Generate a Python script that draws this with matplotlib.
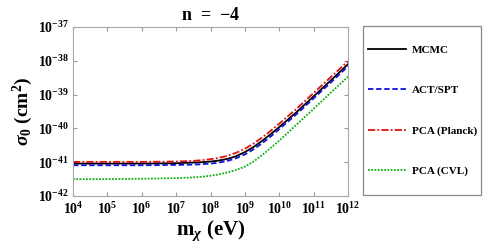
import matplotlib
matplotlib.use('Agg')
import matplotlib.pyplot as plt
from matplotlib.patches import Rectangle
import numpy as np

# =============================================================================
# DATA (log10 values)
# =============================================================================
log_m = [4, 5, 6, 7, 7.5, 7.75, 8, 8.25, 8.5, 8.75, 9, 9.25, 9.5, 9.75, 10, 10.25, 10.5, 11, 11.5, 12]

mcmc    = [-41.04, -41.04, -41.04, -41.03, -41.01, -41.00, -40.98, -40.95, -40.90, -40.82, -40.70,
           -40.55, -40.37, -40.17, -39.96, -39.74, -39.52, -39.05, -38.58, -38.10]
act_spt = [-41.09, -41.09, -41.09, -41.08, -41.07, -41.06, -41.04, -41.01, -40.96, -40.88, -40.77,
           -40.62, -40.44, -40.24, -40.02, -39.80, -39.58, -39.11, -38.64, -38.16]
pca_pl  = [-40.99, -40.99, -40.99, -40.98, -40.96, -40.94, -40.91, -40.87, -40.81, -40.72, -40.60,
           -40.45, -40.27, -40.07, -39.86, -39.64, -39.42, -38.95, -38.48, -38.01]
pca_cvl = [-41.50, -41.50, -41.49, -41.47, -41.45, -41.43, -41.40, -41.36, -41.30, -41.23, -41.13,
           -40.98, -40.79, -40.58, -40.36, -40.13, -39.89, -39.42, -38.94, -38.47]

labels = ['MCMC', 'ACT/SPT', 'PCA (Planck)', 'PCA (CVL)']
colors = ['black', '#1010e0', '#e01010', '#10b010']
styles = ['-', (0, (3, 1.5)), (0, (4, 1.2, 1, 1.2)), (0, (1, 0.8))]

xtick_exp = [4, 5, 6, 7, 8, 9, 10, 11, 12]
ytick_exp = [-42, -41, -40, -39, -38, -37]
xtick_labels = [r'$10^{%d}$' % e for e in xtick_exp]
ytick_labels = [r'$10^{%d}$' % e for e in ytick_exp]

# =============================================================================
# STYLE
# =============================================================================
plt.rcParams['font.family'] = 'Liberation Serif'
plt.rcParams['font.weight'] = 'bold'
plt.rcParams['axes.labelweight'] = 'bold'
plt.rcParams['mathtext.fontset'] = 'custom'
plt.rcParams['mathtext.rm'] = 'Liberation Serif:weight=bold'
plt.rcParams['mathtext.bf'] = 'Liberation Serif:weight=bold'
plt.rcParams['mathtext.it'] = 'Liberation Serif:style=italic:weight=bold'

fig = plt.figure(figsize=(4.91, 2.52), dpi=100)
ax = fig.add_axes([0.1487, 0.2222, 0.5601, 0.6706])

m = 10.0 ** np.array(log_m)
for ys, lab, c, ls in zip([mcmc, act_spt, pca_pl, pca_cvl], labels, colors, styles):
    ax.plot(m, 10.0 ** np.array(ys), color=c, linestyle=ls, linewidth=1.3, label=lab)

ax.set_xscale('log')
ax.set_yscale('log')
ax.set_xlim(1e4, 1e12)
ax.set_ylim(1e-42, 1e-37)
ax.set_xticks([10.0 ** e for e in xtick_exp])
ax.set_xticklabels(xtick_labels)
ax.set_yticks([10.0 ** e for e in ytick_exp])
ax.set_yticklabels(ytick_labels)
ax.minorticks_off()
ax.tick_params(which='both', direction='in', length=3, color='#999999',
               top=True, right=True, labelsize=10)
ax.tick_params(axis='x', pad=4)
ax.tick_params(axis='y', pad=3)
for s in ax.spines.values():
    s.set_color('#aaaaaa')
    s.set_linewidth(0.8)

ax.set_title(r'n  =  $-$4', fontsize=13, fontweight='bold', pad=5)
ax.set_xlabel(r'm$_{\chi}$ (eV)', fontsize=15, fontweight='bold', labelpad=1)
ax.set_ylabel(r'$\sigma_0$ (cm$^2$)', fontsize=14, fontweight='bold', labelpad=2)

# legend box on the right
fig.patches.append(Rectangle((0.739, 0.226), 0.241, 0.671, transform=fig.transFigure,
                             fill=False, edgecolor='#888888', linewidth=0.9))
handles, labs = ax.get_legend_handles_labels()
fig.legend(handles, labs, loc='upper left', bbox_to_anchor=(0.745, 0.83),
           frameon=False, fontsize=8, handlelength=3.4, handletextpad=0.55,
           labelspacing=2.75, borderpad=0.2, borderaxespad=0)

fig.savefig('out.png', dpi=100)
